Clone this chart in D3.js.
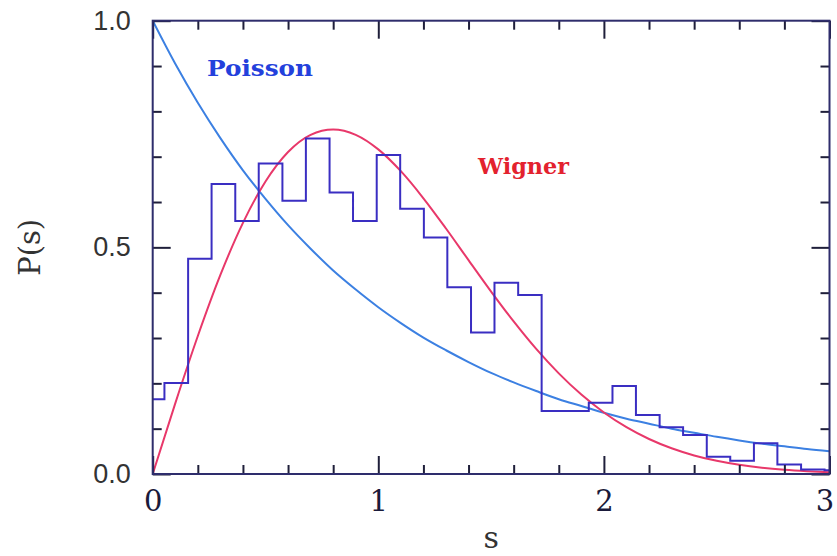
<!DOCTYPE html>
<html>
<head>
<meta charset="utf-8">
<script src="https://cdn.jsdelivr.net/npm/d3@7"></script>
<style>
  html, body { margin: 0; padding: 0; background: #fff; }
  svg { display: block; }
</style>
</head>
<body>
<svg id="chart" width="837" height="556"></svg>
<script>
// Nearest-neighbour spacing distribution: histogram vs. Poisson and Wigner laws

// Histogram bin edges (s) and bin heights P(s)
const binEdges = [0, 0.052, 0.157, 0.261, 0.366, 0.470, 0.575, 0.679, 0.784, 0.888,
                  0.993, 1.097, 1.202, 1.306, 1.411, 1.515, 1.620, 1.724, 1.829, 1.933,
                  2.038, 2.142, 2.247, 2.351, 2.456, 2.560, 2.665, 2.769, 2.874, 2.978, 3.0];
const binHeights = [0.165, 0.201, 0.475, 0.640, 0.558, 0.685, 0.603, 0.740, 0.621, 0.558,
                    0.704, 0.585, 0.522, 0.412, 0.312, 0.422, 0.395, 0.139, 0.139, 0.157,
                    0.194, 0.130, 0.103, 0.086, 0.038, 0.029, 0.068, 0.021, 0.010, 0.008];

// Sample points of the two reference distributions
const sGrid = [0, 0.1, 0.2, 0.3, 0.4, 0.5, 0.6, 0.7, 0.8, 0.9, 1.0, 1.1, 1.2, 1.3, 1.4, 1.5,
               1.6, 1.7, 1.8, 1.9, 2.0, 2.1, 2.2, 2.3, 2.4, 2.5, 2.6, 2.7, 2.8, 2.9, 3.0];
const poissonVals = [1.000, 0.905, 0.819, 0.741, 0.670, 0.607, 0.549, 0.497, 0.449, 0.407,
                     0.368, 0.333, 0.301, 0.273, 0.247, 0.223, 0.202, 0.183, 0.165, 0.150,
                     0.135, 0.122, 0.111, 0.100, 0.091, 0.082, 0.074, 0.067, 0.061, 0.055, 0.050];
const wignerVals = [0.0000, 0.1559, 0.3044, 0.4391, 0.5541, 0.6454, 0.7104, 0.7483, 0.7602, 0.7483,
                    0.7162, 0.6680, 0.6083, 0.5416, 0.4718, 0.4025, 0.3366, 0.2759, 0.2220, 0.1752,
                    0.1358, 0.1033, 0.0772, 0.0567, 0.0409, 0.0290, 0.0202, 0.0138, 0.0093, 0.0062, 0.0040];

// Axis ticks and labels
const xMajorTicks = [0, 1, 2, 3];
const xMinorTicks = [0.2, 0.4, 0.6, 0.8, 1.2, 1.4, 1.6, 1.8, 2.2, 2.4, 2.6, 2.8];
const yMajorTicks = [0, 0.5, 1.0];
const yMinorTicks = [0.1, 0.2, 0.3, 0.4, 0.6, 0.7, 0.8, 0.9];
const yTickLabels = ["0.0", "0.5", "1.0"];
const xTickLabels = ["0", "1", "2", "3"];

const W = 837, H = 556;
const margin = { left: 152.7, right: 7.5, top: 20.7, bottom: 82 };
const iw = W - margin.left - margin.right;
const ih = H - margin.top - margin.bottom;

const svg = d3.select("#chart");
const g = svg.append("g").attr("transform", `translate(${margin.left},${margin.top})`);

const x = d3.scaleLinear().domain([0, 3]).range([0, iw]);
const y = d3.scaleLinear().domain([0, 1]).range([ih, 0]);

const frameColor = "#2e2d6c";
const tickColor = "#1f1f3a";

// Clip so curves stay inside the frame
svg.append("defs").append("clipPath").attr("id", "plotclip")
  .append("rect").attr("x", 0).attr("y", 0).attr("width", iw).attr("height", ih);

const plot = g.append("g").attr("clip-path", "url(#plotclip)");

// Poisson curve
const curveLine = d3.line()
  .x(d => x(d[0])).y(d => y(d[1]))
  .curve(d3.curveMonotoneX);

plot.append("path")
  .datum(sGrid.map((s, i) => [s, poissonVals[i]]))
  .attr("d", curveLine)
  .attr("fill", "none")
  .attr("stroke", "#3c80e2")
  .attr("stroke-width", 2);

// Wigner curve
plot.append("path")
  .datum(sGrid.map((s, i) => [s, wignerVals[i]]))
  .attr("d", curveLine)
  .attr("fill", "none")
  .attr("stroke", "#e8386a")
  .attr("stroke-width", 2);

// Histogram as a step outline
const stepPts = binHeights.map((h, i) => [binEdges[i], h]);
stepPts.push([binEdges[binEdges.length - 1], binHeights[binHeights.length - 1]]);
const stepLine = d3.line()
  .x(d => x(d[0])).y(d => y(d[1]))
  .curve(d3.curveStepAfter);

plot.append("path")
  .datum(stepPts)
  .attr("d", stepLine)
  .attr("fill", "none")
  .attr("stroke", "#3a2ec2")
  .attr("stroke-width", 2);

// Inward ticks on all four sides
function tickAxis(axisGen, values, size, transform) {
  const a = g.append("g")
    .attr("transform", transform)
    .call(axisGen.tickValues(values).tickSize(size).tickFormat(""));
  a.select(".domain").remove();
  a.selectAll("line").attr("stroke", tickColor).attr("stroke-width", 2);
  return a;
}
tickAxis(d3.axisBottom(x), xMajorTicks, -18, `translate(0,${ih})`);
tickAxis(d3.axisBottom(x), xMinorTicks, -9, `translate(0,${ih})`);
tickAxis(d3.axisTop(x), xMajorTicks, -18, `translate(0,0)`);
tickAxis(d3.axisTop(x), xMinorTicks, -9, `translate(0,0)`);
tickAxis(d3.axisLeft(y), yMajorTicks, -18, `translate(0,0)`);
tickAxis(d3.axisLeft(y), yMinorTicks, -9, `translate(0,0)`);
tickAxis(d3.axisRight(y), yMajorTicks, -18, `translate(${iw},0)`);
tickAxis(d3.axisRight(y), yMinorTicks, -9, `translate(${iw},0)`);

// Frame
g.append("rect")
  .attr("x", 0).attr("y", 0).attr("width", iw).attr("height", ih)
  .attr("fill", "none").attr("stroke", frameColor).attr("stroke-width", 2);

// Tick labels
const yLab = g.append("g")
  .call(d3.axisLeft(y).tickValues(yMajorTicks).tickSize(0).tickPadding(22)
    .tickFormat((d, i) => yTickLabels[i]));
yLab.select(".domain").remove();
yLab.selectAll("text")
  .attr("font-family", "'Liberation Sans', Arial, sans-serif")
  .attr("font-size", 27)
  .attr("fill", "#333");

const xLab = g.append("g")
  .attr("transform", `translate(0,${ih})`)
  .call(d3.axisBottom(x).tickValues(xMajorTicks).tickSize(0).tickPadding(16)
    .tickFormat((d, i) => xTickLabels[i]));
xLab.select(".domain").remove();
xLab.selectAll("text")
  .attr("font-family", "'DejaVu Serif', serif")
  .attr("font-size", 29)
  .attr("fill", "#1a1a3a")
  // keep the last label inside the page edge
  .attr("dx", (d, i) => i === xMajorTicks.length - 1 ? -5 : 0);

// Axis titles
svg.append("text")
  .attr("transform", `translate(40,${margin.top + y(0.5)}) rotate(-90)`)
  .attr("text-anchor", "middle")
  .attr("font-family", "'DejaVu Serif', serif")
  .attr("font-size", 29)
  .attr("fill", "#333")
  .text("P(s)");

svg.append("text")
  .attr("x", margin.left + iw / 2)
  .attr("y", 548)
  .attr("text-anchor", "middle")
  .attr("font-family", "'DejaVu Serif', serif")
  .attr("font-size", 30)
  .attr("fill", "#333")
  .text("s");

// Curve labels
svg.append("text")
  .attr("x", 207).attr("y", 76)
  .attr("font-family", "'DejaVu Serif', serif")
  .attr("font-weight", "bold")
  .attr("font-size", 22)
  .attr("textLength", 106).attr("lengthAdjust", "spacingAndGlyphs")
  .attr("fill", "#2340dc")
  .text("Poisson");

svg.append("text")
  .attr("x", 478).attr("y", 174)
  .attr("font-family", "'DejaVu Serif', serif")
  .attr("font-weight", "bold")
  .attr("font-size", 22)
  .attr("textLength", 91).attr("lengthAdjust", "spacingAndGlyphs")
  .attr("fill", "#e3222e")
  .text("Wigner");
</script>
</body>
</html>
